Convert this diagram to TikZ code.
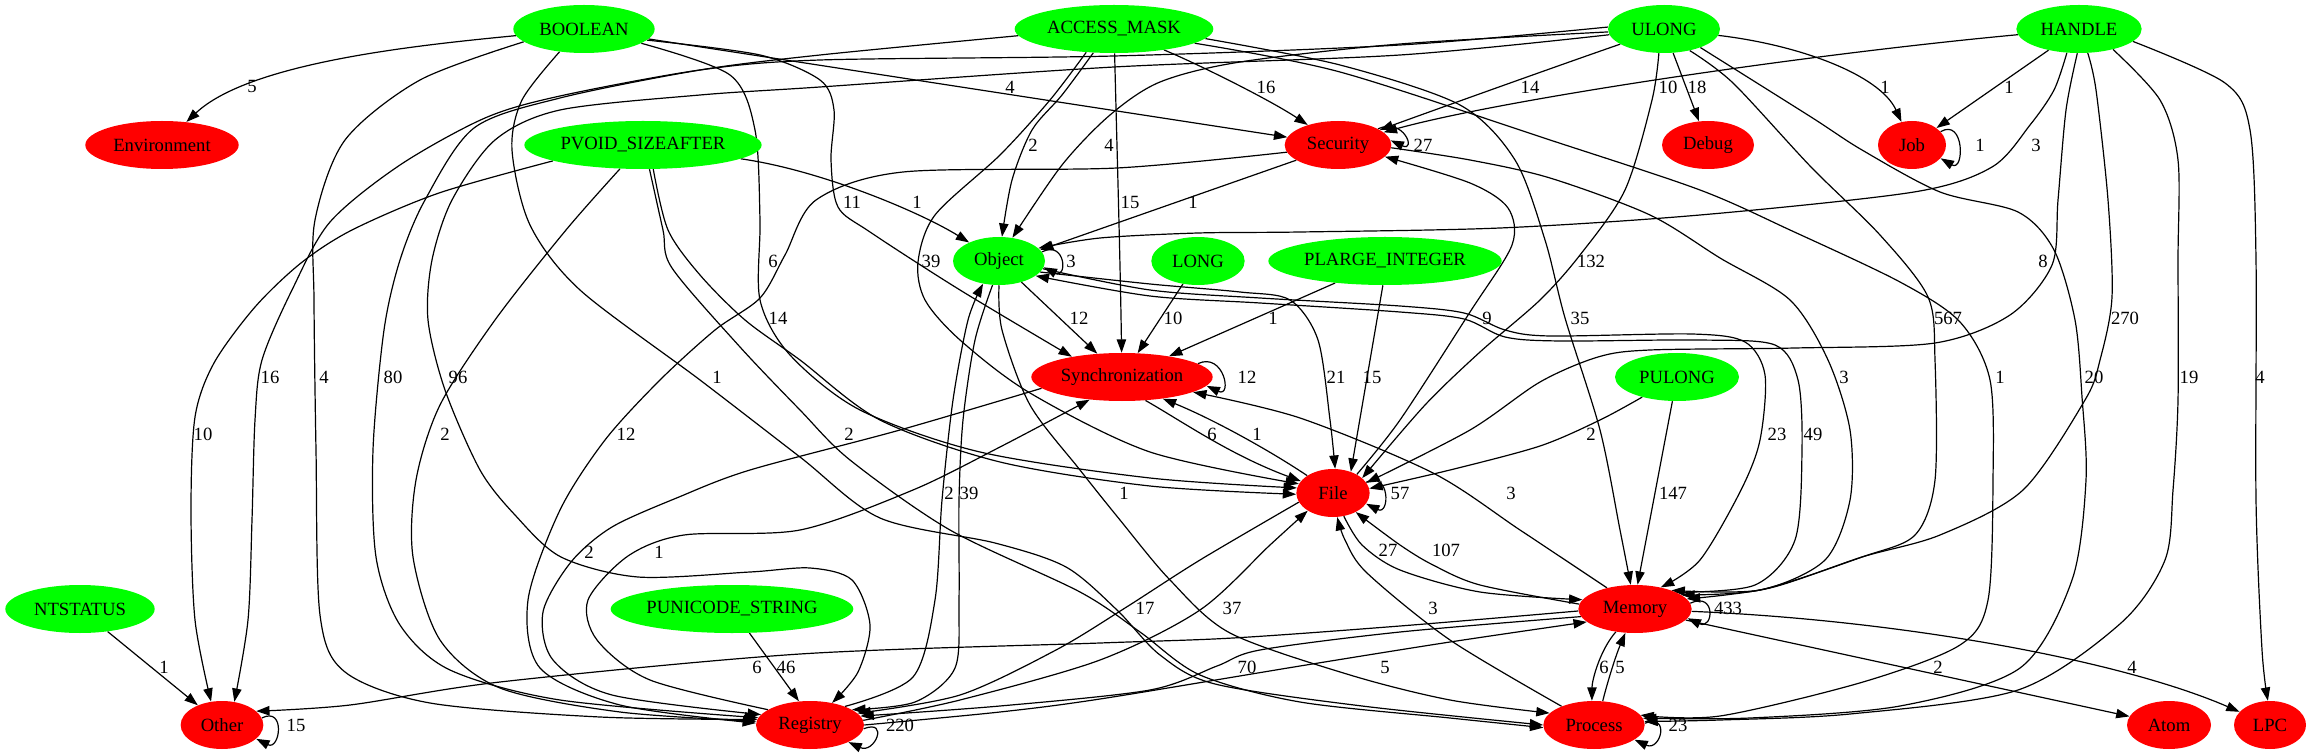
\documentclass[tikz,border=0pt]{standalone}
\usepackage{fontspec}
\setmainfont{Liberation Serif}
\usetikzlibrary{shapes.geometric,arrows.meta}
\definecolor{gvgreen}{RGB}{0,255,0}
\definecolor{gvred}{RGB}{255,0,0}
\pgfdeclarelayer{bg}
\pgfsetlayers{bg,main}
\newcommand{\edgelbl}[3]{\node[lbl] (#1) at (#2) {#3};}
\begin{document}
\begin{tikzpicture}[x=0.75pt,y=-0.75pt,
  tnode/.style={ellipse,fill=gvgreen,draw=none,minimum height=36pt,inner sep=0pt,font=\fontsize{14pt}{16pt}\selectfont},
  cnode/.style={ellipse,fill=gvred,draw=none,minimum height=36pt,inner sep=0pt,font=\fontsize{14pt}{16pt}\selectfont},
  edg/.style={-{Triangle[length=10pt,width=7pt]},line width=0.9pt},
  lbl/.style={inner sep=0pt,font=\fontsize{14pt}{16pt}\selectfont}]
\useasboundingbox (0,0) rectangle (2312,755);
% nodes
\node[tnode,minimum width=106pt] (BOOL) at (584,29) {BOOLEAN};
\node[tnode,minimum width=149pt] (AM) at (1114,29) {ACCESS\_MASK};
\node[tnode,minimum width=84pt] (UL) at (1664,29) {ULONG};
\node[tnode,minimum width=94pt] (HA) at (2079,29) {HANDLE};
\node[cnode,minimum width=115pt] (Env) at (162,145) {Environment};
\node[tnode,minimum width=178pt] (PV) at (643,145) {PVOID\_SIZEAFTER};
\node[cnode,minimum width=80pt] (Sec) at (1338,145) {Security};
\node[cnode,minimum width=69pt] (Dbg) at (1708,145) {Debug};
\node[cnode,minimum width=51pt] (Job) at (1912,145) {Job};
\node[tnode,minimum width=69pt] (Obj) at (999,261) {Object};
\node[tnode,minimum width=70pt] (LONG) at (1198,261) {LONG};
\node[tnode,minimum width=175pt] (PLI) at (1385,261) {PLARGE\_INTEGER};
\node[cnode,minimum width=136pt] (Sync) at (1122,377) {Synchronization};
\node[tnode,minimum width=93pt] (PUL) at (1677,377) {PULONG};
\node[cnode,minimum width=55pt] (File) at (1333,493) {File};
\node[tnode,minimum width=112pt] (NTS) at (80,609) {NTSTATUS};
\node[tnode,minimum width=182pt] (PUS) at (732,609) {PUNICODE\_STRING};
\node[cnode,minimum width=85pt] (Mem) at (1635,609) {Memory};
\node[cnode,minimum width=62pt] (Oth) at (222,725) {Other};
\node[cnode,minimum width=81pt] (Reg) at (810,725) {Registry};
\node[cnode,minimum width=76pt] (Proc) at (1594,725) {Process};
\node[cnode,minimum width=63pt] (Atom) at (2169,725) {Atom};
\node[cnode,minimum width=54pt] (LPC) at (2270,725) {LPC};

\begin{pgfonlayer}{bg}
\fill[white] (0,0) rectangle (2312,755);
% BOOLEAN
\draw[edg] (BOOL) .. controls (420,45) and (250,62) .. (Env);
\draw[edg] (BOOL) -- (Sec);
\draw[edg] plot[smooth] coordinates {(BOOL.-10) (760,55) (820,80) (834,110) (831,160) (838,207) (870,232) (960,290) (Sync.158)};
\draw[edg] plot[smooth] coordinates {(BOOL.-14) (730,75) (755,130) (760,220) (760,300) (790,355) (860,410) (980,452) (1150,478) (File.172)};
\draw[edg] plot[smooth] coordinates {(BOOL.192) (420,80) (345,140) (315,220) (314,300) (316,450) (320,615) (345,672) (430,703) (600,717) (Reg.174)};
\draw[edg] plot[smooth] coordinates {(BOOL.223) (522,100) (512,150) (530,225) (580,290) (700,380) (800,457) (880,518) (995,543) (1066,567) (1117,610) (1160,655) (1215,684) (1362,706) (Proc.180)};
% ACCESS_MASK
\draw[edg] (AM) .. controls (1200,65) and (1270,100) .. (Sec);
\draw[edg] plot[smooth] coordinates {(AM.229) (1062,95) (1032,130) (1012,180) (Obj.83)};
\draw[edg] (AM) .. controls (1117,150) and (1120,250) .. (Sync);
\draw[edg] plot[smooth] coordinates {(AM.220) (1050,100) (1000,155) (935,215) (918,262) (925,300) (960,340) (1030,393) (1150,452) (File.165)};
\draw[edg] plot[smooth] coordinates {(AM.-6) (1340,65) (1460,105) (1515,160) (1545,240) (1565,318) (1600,430) (1620,530) (Mem.100)};
\draw[edg] plot[smooth] coordinates {(AM.-10) (1340,72) (1550,140) (1700,190) (1790,230) (1900,282) (1960,322) (1990,380) (1993,480) (1988,600) (1960,645) (1863,682) (1720,716) (Proc.12)};
\draw[edg] plot[smooth] coordinates {(AM.184) (820,55) (700,70) (560,98) (474,128) (425,200) (400,260) (384,330) (373,450) (376,557) (400,625) (450,670) (560,700) (Reg.172)};
% ULONG
\draw[edg] (UL) .. controls (1560,65) and (1440,108) .. (Sec);
\draw[edg] (UL) -- (Dbg);
\draw[edg] (UL) .. controls (1800,45) and (1880,75) .. (Job);
\draw[edg] plot[smooth] coordinates {(UL.183) (1400,44) (1240,62) (1160,82) (1110,115) (1062,165) (Obj.60)};
\draw[edg] plot[smooth] coordinates {(UL.258) (1652,100) (1625,190) (1580,255) (1540,300) (1480,352) (1425,405) (File.27)};
\draw[edg] plot[smooth] coordinates {(UL.-40) (1733,83) (1811,167) (1880,235) (1928,297) (1935,360) (1935,480) (1915,535) (1862,557) (1760,590) (Mem.17)};
\draw[edg] plot[smooth] coordinates {(UL.-27) (1811,117) (1862,150) (1940,192) (2018,212) (2054,250) (2075,320) (2082,397) (2086,480) (2072,580) (2020,668) (1900,706) (1750,718) (Proc.8)};
\draw[edg] plot[smooth] coordinates {(UL.178) (1400,45) (1114,56) (820,60) (700,70) (560,96) (485,118) (400,165) (330,222) (292,290) (262,360) (255,420) (252,520) (248,620) (Oth.62)};
\draw[edg] plot[smooth] coordinates {(UL.186) (1400,55) (1114,67) (820,87) (700,95) (560,110) (495,140) (452,200) (432,260) (428,320) (445,390) (480,470) (515,515) (561,557) (638,577) (750,572) (810,568) (852,580) (870,625) (858,672) (Reg.45)};
% HANDLE
\draw[edg] (HA) .. controls (1800,55) and (1500,100) .. (Sec);
\draw[edg] (HA) -- (Job);
\draw[edg] plot[smooth] coordinates {(HA.243) (2054,90) (2030,125) (1992,167) (1914,192) (1700,215) (1500,228) (1300,232) (1198,233) (1100,238) (Obj.18)};
\draw[edg] plot[smooth] coordinates {(HA.266) (2066,110) (2058,200) (2052,265) (2010,315) (1935,343) (1795,348) (1650,350) (1598,357) (1540,382) (1470,430) (File.17)};
\draw[edg] plot[smooth] coordinates {(HA.-70) (2096,90) (2108,200) (2112,297) (2100,360) (2085,400) (2023,490) (1940,535) (1862,557) (1770,588) (Mem.11)};
\draw[edg] plot[smooth] coordinates {(HA.-31) (2160,100) (2178,160) (2178,260) (2178,400) (2173,490) (2165,560) (2121,623) (2018,690) (1850,714) (1720,720) (Proc.4)};
\draw[edg] plot[smooth] coordinates {(HA.-13) (2225,83) (2250,130) (2256,260) (2256,500) (2262,650) (LPC.95)};
% PVOID_SIZEAFTER
\draw[edg] (PV) .. controls (820,170) and (920,212) .. (Obj);
\draw[edg] plot[smooth] coordinates {(PV.-67) (668,230) (700,275) (745,320) (800,360) (880,420) (1000,462) (1150,486) (File.182)};
\draw[edg] plot[smooth] coordinates {(PV.190) (439,193) (352,230) (301,263) (255,307) (214,363) (195,417) (191,510) (195,620) (Oth.115)};
\draw[edg] plot[smooth] coordinates {(PV.226) (566,230) (495,320) (440,405) (416,480) (413,557) (440,640) (500,688) (620,712) (Reg.176)};
\draw[edg] plot[smooth] coordinates {(PV.-75) (663,230) (672,268) (740,347) (800,410) (850,460) (950,530) (1080,592) (1140,632) (1200,675) (1300,702) (1450,718) (Proc.183)};
% Security
\draw[edg] (Sec.200) -- (Obj.15);
\draw[edg] plot[smooth] coordinates {(Sec.188) (1117,168) (903,172) (816,200) (785,255) (760,298) (715,330) (660,380) (605,440) (560,510) (528,600) (540,668) (620,705) (Reg.178)};
\draw[edg] plot[smooth] coordinates {(Sec.-3) (1470,160) (1550,178) (1650,215) (1720,258) (1790,300) (1828,360) (1850,430) (1850,500) (1825,560) (1760,590) (Mem.27)};
\draw[edg] (Sec.22) .. controls +(26,-12) and +(26,12) .. (Sec.5);
% File
\draw[edg] plot[smooth] coordinates {(File.38) (1400,420) (1470,312) (1512,245) (1508,208) (1470,183) (Sec.-14)};
\draw[edg] (File) .. controls (1272,452) and (1215,420) .. (Sync.-28);
\draw[edg] plot[smooth] coordinates {(File.-65) (1362,545) (1400,570) (1480,592) (Mem.170)};
\draw[edg] plot[smooth] coordinates {(File.195) (1200,560) (1125,608) (1056,650) (960,695) (Reg.14)};
\draw[edg] (File.18) .. controls +(24,-12) and +(24,12) .. (File.-18);
% Synchronization
\draw[edg] (Sync.-45) .. controls (1180,420) and (1230,455) .. (File);
\draw[edg] plot[smooth] coordinates {(Sync.188) (900,430) (750,470) (679,497) (612,527) (571,562) (543,612) (553,660) (612,695) (Reg.168)};
\draw[edg] (Sync.10) .. controls +(26,-12) and +(26,12) .. (Sync.-6);
% Object
\draw[edg] (Obj) -- (Sync);
\draw[edg] plot[smooth] coordinates {(Obj.-15) (1150,284) (1240,292) (1290,300) (1318,340) (1330,420) (File.85)};
\draw[edg] plot[smooth] coordinates {(Obj.-10) (1150,290) (1260,298) (1400,306) (1464,313) (1505,330) (1550,336) (1692,334) (1745,342) (1765,375) (1760,440) (1741,490) (1700,560) (Mem.40)};
\draw[edg] plot[smooth] coordinates {(Mem.22) (1755,585) (1795,540) (1802,450) (1798,380) (1775,345) (1700,340) (1560,341) (1505,337) (1464,319) (1400,312) (1260,303) (1150,296) (Obj.-22)};
\draw[edg] plot[smooth] coordinates {(Obj.255) (975,340) (963,420) (959,500) (959,600) (955,668) (915,702) (Reg.20)};
\draw[edg] plot[smooth] coordinates {(Obj.270) (1002,330) (1030,405) (1080,470) (1120,520) (1170,580) (1230,633) (1350,675) (1450,700) (Proc.165)};
\draw[edg] (Obj.12) .. controls +(24,-12) and +(24,12) .. (Obj.-8);
% Memory
\draw[edg] plot[smooth] coordinates {(Mem.143) (1520,530) (1433,473) (1300,418) (Sync.-12)};
\draw[edg] plot[smooth] coordinates {(Mem.175) (1480,585) (1433,565) (1400,545) (File.-40)};
\draw[edg] plot[smooth] coordinates {(Mem.182) (1400,626) (1233,638) (1100,643) (800,654) (500,682) (350,705) (Oth.22)};
\draw[edg] plot[smooth] coordinates {(Mem.188) (1400,632) (1260,650) (1217,666) (1150,690) (1000,706) (Reg.10)};
\draw[edg] (Mem.230) .. controls (1600,650) and (1592,680) .. (Proc.95);
\draw[edg] (Mem) -- (Atom);
\draw[edg] (Mem) .. controls (1900,620) and (2120,660) .. (LPC);
\draw[edg] (Mem.6) .. controls +(26,-12) and +(26,12) .. (Mem.-10);
% Registry
\draw[edg] plot[smooth] coordinates {(Reg.28) (913,677) (935,600) (942,500) (953,400) (968,320) (Obj.235)};
\draw[edg] plot[smooth] coordinates {(Reg.160) (650,680) (597,640) (588,600) (628,556) (684,535) (800,530) (913,490) (1000,447) (Sync.215)};
\draw[edg] plot[smooth] coordinates {(Reg.5) (960,700) (1100,660) (1200,610) (1270,545) (File.215)};
\draw[edg] plot[smooth] coordinates {(Reg.0) (1000,712) (1100,699) (1300,666) (1450,642) (Mem.195)};
\draw[edg] (Reg.-4) .. controls +(26,-10) and +(26,12) .. (Reg.-24);
% Process
\draw[edg] plot[smooth] coordinates {(Proc.150) (1450,640) (1367,573) (1345,540) (File.-80)};
\draw[edg] (Proc.70) .. controls (1608,680) and (1616,655) .. (Mem.248);
\draw[edg] (Proc.2) .. controls +(26,-10) and +(26,12) .. (Proc.-20);
% others
\draw[edg] (LONG) -- (Sync);
\draw[edg] (PLI) -- (Sync);
\draw[edg] (PLI.265) -- (File.50);
\draw[edg] plot[smooth] coordinates {(PUL.210) (1600,420) (1540,446) (1450,470) (File.7)};
\draw[edg] (PUL) -- (Mem.84);
\draw[edg] (NTS) -- (Oth);
\draw[edg] (PUS) -- (Reg.115);
\draw[edg] (Job.25) .. controls +(24,-14) and +(24,14) .. (Job.-25);
\draw[edg] (Oth.10) .. controls +(24,-12) and +(24,12) .. (Oth.-22);
\end{pgfonlayer}

% edge labels
\edgelbl{l1}{252,86}{5}
\edgelbl{l2}{1010,87}{4}
\edgelbl{l3}{1266,87}{16}
\edgelbl{l4}{1530,87}{14}
\edgelbl{l5}{1668,87}{10}
\edgelbl{l6}{1697,87}{18}
\edgelbl{l7}{1885,87}{1}
\edgelbl{l8}{2009,87}{1}
\edgelbl{l9}{1033,145}{2}
\edgelbl{l10}{1109,145}{4}
\edgelbl{l11}{2036,145}{3}
\edgelbl{l12}{852,202}{11}
\edgelbl{l13}{917,202}{1}
\edgelbl{l14}{1130,202}{15}
\edgelbl{l15}{1193,202}{1}
\edgelbl{l16}{773,261}{6}
\edgelbl{l17}{931,261}{39}
\edgelbl{l18}{1591,261}{132}
\edgelbl{l19}{2043,261}{8}
\edgelbl{l20}{778,318}{14}
\edgelbl{l21}{1079,318}{12}
\edgelbl{l22}{1173,318}{10}
\edgelbl{l23}{1273,318}{1}
\edgelbl{l24}{1487,318}{9}
\edgelbl{l25}{1580,318}{35}
\edgelbl{l26}{1948,318}{567}
\edgelbl{l27}{2125,318}{270}
\edgelbl{l28}{270,377}{16}
\edgelbl{l29}{324,377}{4}
\edgelbl{l30}{393,377}{80}
\edgelbl{l31}{458,377}{96}
\edgelbl{l32}{717,377}{1}
\edgelbl{l33}{1336,377}{21}
\edgelbl{l34}{1372,377}{15}
\edgelbl{l35}{1844,377}{3}
\edgelbl{l36}{2000,377}{1}
\edgelbl{l37}{2094,377}{20}
\edgelbl{l38}{2189,377}{19}
\edgelbl{l39}{2260,377}{4}
\edgelbl{l40}{203,434}{10}
\edgelbl{l41}{445,434}{2}
\edgelbl{l42}{626,434}{12}
\edgelbl{l43}{849,434}{2}
\edgelbl{l44}{1212,434}{6}
\edgelbl{l45}{1257,434}{1}
\edgelbl{l46}{1591,434}{2}
\edgelbl{l47}{1777,434}{23}
\edgelbl{l48}{1813,434}{49}
\edgelbl{l49}{949,493}{2}
\edgelbl{l50}{969,493}{39}
\edgelbl{l51}{1124,493}{1}
\edgelbl{l52}{1511,493}{3}
\edgelbl{l53}{1673,493}{147}
\edgelbl{l54}{589,552}{2}
\edgelbl{l55}{659,552}{1}
\edgelbl{l56}{1388,550}{27}
\edgelbl{l57}{1446,550}{107}
\edgelbl{l58}{1145,608}{17}
\edgelbl{l59}{1232,608}{37}
\edgelbl{l60}{1433,608}{3}
\edgelbl{l61}{164,667}{1}
\edgelbl{l62}{757,667}{6}
\edgelbl{l63}{786,667}{46}
\edgelbl{l64}{1247,667}{70}
\edgelbl{l65}{1385,667}{5}
\edgelbl{l66}{1604,667}{6}
\edgelbl{l67}{1620,667}{5}
\edgelbl{l68}{1938,667}{2}
\edgelbl{l69}{2132,667}{4}
% self-loop labels
\edgelbl{s1}{1423,145}{27}
\edgelbl{s2}{1980,145}{1}
\edgelbl{s3}{1071,261}{3}
\edgelbl{s4}{1247,377}{12}
\edgelbl{s5}{1400,493}{57}
\edgelbl{s6}{1728,608}{433}
\edgelbl{s7}{296,725}{15}
\edgelbl{s8}{900,725}{220}
\edgelbl{s9}{1678,725}{23}
\end{tikzpicture}
\end{document}
